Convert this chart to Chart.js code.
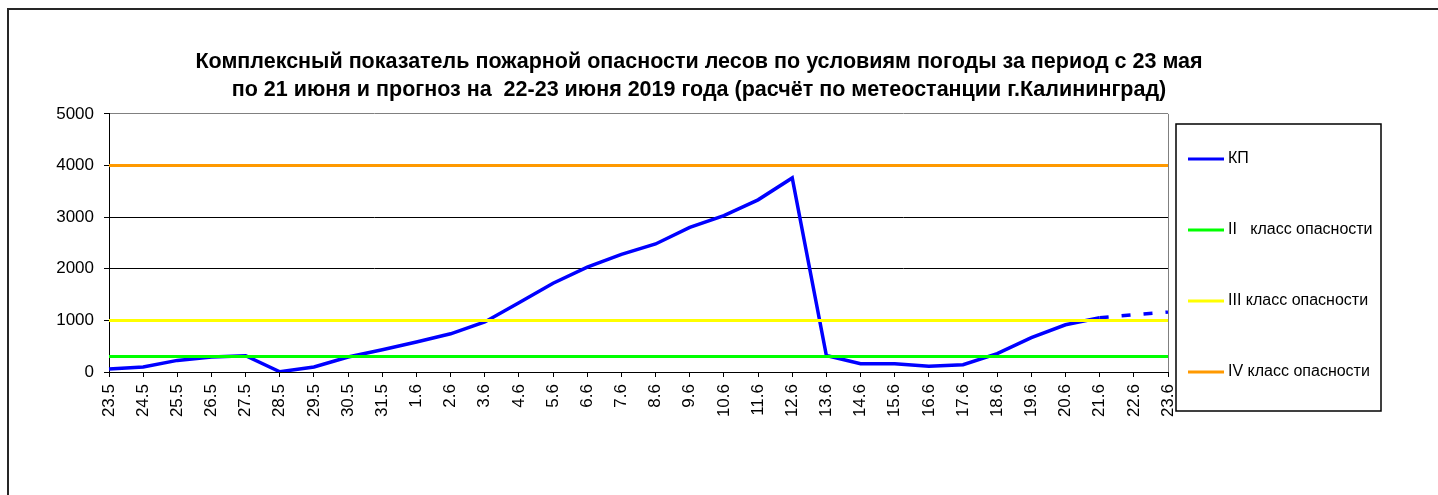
<!DOCTYPE html>
<html>
<head>
<meta charset="utf-8">
<script src="https://cdn.jsdelivr.net/npm/chart.js@4/dist/chart.umd.min.js"></script>
<style>
  body { margin: 0; background: #fff; }
</style>
</head>
<body>
<canvas id="chart" width="1438" height="495"></canvas>
<script>
const days = ['23.5', '24.5', '25.5', '26.5', '27.5', '28.5', '29.5', '30.5', '31.5',
  '1.6', '2.6', '3.6', '4.6', '5.6', '6.6', '7.6', '8.6', '9.6', '10.6', '11.6', '12.6',
  '13.6', '14.6', '15.6', '16.6', '17.6', '18.6', '19.6', '20.6', '21.6', '22.6', '23.6'];
const kpValues = [58, 97, 225, 290, 315, 5, 97, 290, 430,
  580, 740, 970, 1340, 1720, 2030, 2280, 2480, 2800, 3030, 3335, 3760,
  320, 160, 160, 110, 140, 355, 665, 915, 1050, 1110, 1160];
// threshold lines run across the whole period
const levelDays = ['23.5', '23.6'];
const class2Values = [300, 300];
const class3Values = [1000, 1000];
const class4Values = [4000, 4000];
const yTicks = [0, 1000, 2000, 3000, 4000, 5000];
const seriesNames = ['КП', 'II   класс опасности', 'III класс опасности', 'IV класс опасности'];
const titleLines = [
  'Комплексный показатель пожарной опасности лесов по условиям погоды за период с 23 мая',
  'по 21 июня и прогноз на  22-23 июня 2019 года (расчёт по метеостанции г.Калининград)'
];
const forecastFrom = days.indexOf('21.6');

const FONT = 'Arial, "Liberation Sans", sans-serif';

function levelPoints(values) {
  return values.map((v, i) => ({ x: levelDays[i], y: v }));
}

const frame = {
  id: 'frame',
  beforeDraw(chart) {
    const ctx = chart.ctx;
    ctx.save();
    ctx.strokeStyle = '#262626';
    ctx.lineWidth = 2;
    ctx.beginPath();
    ctx.moveTo(8, 495);
    ctx.lineTo(8, 9);
    ctx.lineTo(1438, 9);
    ctx.stroke();
    ctx.restore();
  },
  afterLayout(chart) {
    // title is centred over plot + legend like in excel
    chart.titleBlock.left = 0;
    chart.titleBlock.right = 1398;
  }
};

const sideLegend = {
  id: 'sideLegend',
  afterDraw(chart) {
    const ctx = chart.ctx;
    ctx.save();
    ctx.strokeStyle = '#000';
    ctx.lineWidth = 1.5;
    ctx.strokeRect(1176, 124, 205, 287);
    ctx.font = '16px ' + FONT;
    ctx.textBaseline = 'middle';
    chart.data.datasets.forEach((ds, i) => {
      const y = 159 + i * 71;
      ctx.strokeStyle = ds.borderColor;
      ctx.lineWidth = 3;
      ctx.beginPath();
      ctx.moveTo(1188, y);
      ctx.lineTo(1224, y);
      ctx.stroke();
      ctx.fillStyle = '#000';
      ctx.fillText(ds.label, 1228, y);
    });
    ctx.restore();
  }
};

const data = {
  labels: days,
  datasets: [
    {
      label: seriesNames[0],
      data: kpValues,
      borderColor: '#0000ff',
      borderWidth: 3.5,
      pointRadius: 0,
      tension: 0,
      order: 2,
      segment: {
        borderDash: ctx => ctx.p0DataIndex >= forecastFrom ? [9, 13] : undefined
      }
    },
    {
      label: seriesNames[1],
      data: levelPoints(class2Values),
      borderColor: '#00ff00',
      borderWidth: 3,
      pointRadius: 0,
      order: 1
    },
    {
      label: seriesNames[2],
      data: levelPoints(class3Values),
      borderColor: '#ffff00',
      borderWidth: 3,
      pointRadius: 0,
      order: 1
    },
    {
      label: seriesNames[3],
      data: levelPoints(class4Values),
      borderColor: '#ff9900',
      borderWidth: 3,
      pointRadius: 0,
      order: 1
    }
  ]
};

const config = {
  type: 'line',
  data: data,
  options: {
    responsive: false,
    animation: false,
    layout: { padding: { left: 0, right: 270, top: 0, bottom: 0 } },
    plugins: {
      legend: { display: false },
      tooltip: { enabled: false },
      title: {
        display: true,
        text: titleLines,
        color: '#000',
        font: { family: FONT, size: 21.5, weight: 'bold', lineHeight: 1.3 },
        padding: { top: 48, bottom: 10 }
      }
    },
    scales: {
      x: {
        afterFit: s => { s.height = 123; },
        grid: {
          drawOnChartArea: true,
          color: ctx => ctx.index === days.length - 1 ? '#808080' : 'rgba(0,0,0,0)',
          tickColor: '#000',
          tickLength: 5
        },
        border: { color: '#000', width: 1 },
        ticks: {
          autoSkip: false,
          minRotation: 90,
          maxRotation: 90,
          padding: 7,
          color: '#000',
          font: { family: FONT, size: 17 }
        }
      },
      y: {
        min: 0,
        max: 5000,
        afterFit: s => { s.width = 109; },
        afterBuildTicks: s => { s.ticks = yTicks.map(v => ({ value: v })); },
        grid: {
          color: ctx => ctx.tick && ctx.tick.value === 5000 ? '#808080' : '#000',
          tickColor: '#000',
          tickLength: 5
        },
        border: { color: '#000', width: 1 },
        ticks: {
          padding: 10,
          color: '#000',
          font: { family: FONT, size: 17 },
          callback: v => String(v)
        }
      }
    }
  },
  plugins: [frame, sideLegend]
};

const chart = new Chart(document.getElementById('chart'), config);
</script>
</body>
</html>
